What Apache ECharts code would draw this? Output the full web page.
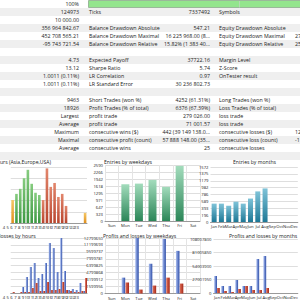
<!DOCTYPE html>
<html lang="en">
<head>
<meta charset="UTF-8">
<title>Strategy Tester Report</title>
<script src="https://cdn.jsdelivr.net/npm/echarts@6/dist/echarts.min.js"></script>
<style>
    html, body { margin: 0; padding: 0; background: #fff; }
    #main { width: 300px; height: 300px; }
</style>
</head>
<body>
<div id="main"></div>
<script>
    // report table, one entry per row
    var col1 = ['100%', '124973', '10 000.00', '356 964 842.67', '452 708 565.21', '-95 743 721.54', '',
        '4.73', '13.12', '1.0011 (0.11%)', '1.0011 (0.11%)', '',
        '9463', '18926', 'Largest', 'Average', 'Maximum', 'Maximal', 'Average', ''];
    var col2 = ['', 'Ticks', '', 'Balance Drawdown Absolute', 'Balance Drawdown Maximal', 'Balance Drawdown Relative', '',
        'Expected Payoff', 'Sharpe Ratio', 'LR Correlation', 'LR Standard Error', '',
        'Short Trades (won %)', 'Profit Trades (% of total)', 'profit trade', 'profit trade',
        'consecutive wins ($)', 'consecutive profit (count)', 'consecutive wins', ''];
    var col3 = ['', '7337492', '', '547.21', '16 225 968.00 (8...', '15.82% (1 383 40...', '',
        '37722.16', '5.74', '0.97', '30 236 802.73', '',
        '4252 (61.31%)', '6376 (67.39%)', '279 026.00', '71 001.57',
        '442 (39 149 138.0...', '57 888 148.00 (35...', '25', ''];
    var col4 = ['', 'Symbols', '', 'Equity Drawdown Absolute', 'Equity Drawdown Maximal', 'Equity Drawdown Relative', '',
        'Margin Level', 'Z-Score', 'OnTester result', '', '',
        'Long Trades (won %)', 'Loss Trades (% of total)', 'loss trade', 'loss trade',
        'consecutive losses ($)', 'consecutive loss (count)', 'consecutive losses', ''];
    var col5 = ['', '', '', '', '27', '25', '', '', '', '', '', '', '', '', '', '', '12', '-1', '', ''];

    // entries by hours
    var hourLabels = ['4', '5', '6', '7', '8', '9', '10', '11', '12', '13', '14', '15', '16', '17', '18', '19', '20', '21', '22', '23'];
    var hourSession = ['asia', 'europe', 'europe', 'europe', 'europe', 'europe', 'europe', 'europe',
        'usa', 'usa', 'usa', 'usa', 'usa', 'usa', 'usa', '', '', '', '', 'asia'];
    var entriesByHour = [410, 520, 610, 800, 950, 700, 540, 500, 410, 975, 645, 715, 465, 520, 305, 0, 0, 0, 0, 180];
    var hourTicks = ['0', '200', '400', '600', '800', '1000'];

    // entries by weekdays
    var weekdays = ['Sun', 'Mon', 'Tue', 'Wed', 'Thu', 'Fri', 'Sat'];
    var entriesByWeekday = [0, 1700, 1730, 1900, 1580, 2550, 0];
    var weekdayTicks = ['0', '323', '647', '971', '1295', '1618', '1942', '2266', '2590'];

    // entries by months
    var months = ['Jan', 'Feb', 'Mar', 'Apr', 'May', 'Jun', 'Jul', 'Aug', 'Sep', 'Oct', 'Nov', 'Dec'];
    var entriesByMonth = [525, 525, 465, 580, 525, 670, 875, 960];
    var monthTicks = ['0', '196', '393', '589', '786', '982', '1179', '1375', '1572'];

    // profits and losses by hours
    var profitsByHour = [0, 0, 0, 775000, 2065000, 3355000, 3870000, 1935000, 2450000, 3870000,
        6450000, 5805000, 2710000, 7100000, 2840000, 390000, 515000, 390000, 1290000, 260000];
    var lossesByHour = [130000, 0, 130000, 130000, 130000, 645000, 1290000, 260000, 260000, 1420000,
        390000, 390000, 515000, 1420000, 390000, 260000, 130000, 130000, 260000, 1935000];
    var hourMoneyTicks = ['0', '887500', '1775000', '2662500', '3550000', '4437500', '5325000', '6212500', '7100000'];

    // profits and losses by weekdays
    var profitsByWeekday = [0, 3660000, 12799650, 6860000, 12570000, 9830000, 0];
    var lossesByWeekday = [0, 2510000, 910000, 1830000, 3660000, 2290000, 0];
    var weekdayMoneyTicks = ['0', '1599956', '3199912', '4799868', '6399825', '7999781', '9599737', '11199693', '12799650'];

    // profits and losses by months
    var profitsByMonth = [34000000, 14000000, 14000000, 26000000, 14000000, 14000000, 68000000, 74000000];
    var lossesByMonth = [10000000, 4000000, 2000000, 8000000, 14000000, 6000000, 6000000, 10000000];
    var monthMoneyTicks = ['0', '27001950', '54003900', '81005850', '108007800'];

    var myChart = echarts.init(document.getElementById('main'), null, {renderer: 'svg'});

    var FONT = 'Open Sans';
    var rowH = 8;

    function vgrad(top, bottom) {
        return {type: 'linear', x: 0, y: 0, x2: 0, y2: 1, colorStops: [{offset: 0, color: top}, {offset: 1, color: bottom}]};
    }
    function hgrad(left, right) {
        return {type: 'linear', x: 0, y: 0, x2: 1, y2: 0, colorStops: [{offset: 0, color: left}, {offset: 1, color: right}]};
    }
    var sessionColors = {
        asia: vgrad('#f5c766', '#e0901e'),
        europe: vgrad('#86cc7f', '#3c9842'),
        usa: vgrad('#e2866c', '#b8442d'),
        '': '#fff'
    };
    var blueBar = hgrad('#a9bdf0', '#2e4ea8');
    var redBar = hgrad('#e0705a', '#a52818');

    // table rows
    var graphic = [];
    for (var i = 0; i < col1.length; i++) {
        if (i % 2 === 1) {
            graphic.push({type: 'rect', silent: true, z: -10,
                shape: {x: 0, y: i * rowH, width: 300, height: rowH},
                style: {fill: '#efefef'}});
        }
    }
    // progress bar of the first row
    graphic.push({type: 'rect', silent: true, shape: {x: 88.5, y: 0.5, width: 215, height: 7},
        style: {fill: '#93e58d', stroke: '#9ab89a', lineWidth: 1}});
    graphic.push({type: 'line', silent: true, shape: {x1: 239.5, y1: 1, x2: 239.5, y2: 7.5},
        style: {stroke: '#b6d8b4', lineWidth: 1}});

    function cell(txt, x, i, align) {
        if (!txt) return;
        graphic.push({type: 'text', silent: true, x: x, y: i * rowH + 4.3,
            style: {text: txt, fill: '#222', fontSize: 5.3, fontFamily: FONT, align: align, verticalAlign: 'middle'}});
    }
    for (var r = 0; r < col1.length; r++) {
        cell(col1[r], 79, r, 'right');
        cell(col2[r], 89, r, 'left');
        cell(col3[r], 210, r, 'right');
        cell(col4[r], 219, r, 'left');
        cell(col5[r], 295, r, 'left');
    }

    function title(txt, left, top) {
        return {text: txt, left: left, top: top, padding: 0,
            textStyle: {fontSize: 5.1, fontWeight: 'normal', color: '#222', fontFamily: FONT}};
    }

    function xCat(grid, data, shift, split) {
        return {type: 'category', gridIndex: grid, data: data,
            axisTick: {show: false},
            axisLine: {lineStyle: {color: '#9a9a9a', width: 1}},
            axisLabel: {interval: 0, fontSize: 4.2, margin: 2.5, color: '#222', fontFamily: FONT,
                padding: shift ? [0, shift, 0, 0] : 0},
            splitLine: {show: !!split, lineStyle: {color: '#e4e4e4', width: 1}}};
    }
    function yVal(grid, ticks, showLabels) {
        var max = Number(ticks[ticks.length - 1]);
        var step = max / (ticks.length - 1);
        return {type: 'value', gridIndex: grid, min: 0, max: max, interval: step,
            axisLine: {show: false}, axisTick: {show: false},
            axisLabel: {show: showLabels, fontSize: 4.2, margin: 2, color: '#222', fontFamily: FONT,
                formatter: function (v) { return ticks[Math.round(v / step)]; }},
            splitLine: {lineStyle: {color: '#dedede', width: 1}}};
    }

    var option = {
        animation: false,
        backgroundColor: '#fff',
        graphic: graphic,
        title: [
            title('Entries by hours (Asia,Europe,USA)', -31, 159),
            title('Entries by weekdays', 104, 159),
            title('Entries by months', 233, 159),
            title('Profits and losses by hours', -28, 233),
            title('Profits and losses by weekdays', 103, 233),
            title('Profits and losses by months', 229, 233)
        ],
        grid: [
            {left: 0, top: 167, width: 87, height: 56},
            {left: 105, top: 165, width: 95, height: 56},
            {left: 210.5, top: 167, width: 108, height: 55},
            {left: 0, top: 238, width: 87, height: 55},
            {left: 105, top: 238, width: 95, height: 56},
            {left: 213.5, top: 239, width: 108, height: 54}
        ],
        xAxis: [
            xCat(0, hourLabels, 17.4, false),
            xCat(1, weekdays, 0, true),
            xCat(2, months, 0, false),
            xCat(3, hourLabels, 17.4, false),
            xCat(4, weekdays, 0, true),
            xCat(5, months, 0, false)
        ],
        yAxis: [
            yVal(0, hourTicks, false),
            yVal(1, weekdayTicks, true),
            yVal(2, monthTicks, true),
            yVal(3, hourMoneyTicks, false),
            yVal(4, weekdayMoneyTicks, true),
            yVal(5, monthMoneyTicks, true)
        ],
        series: [
            {type: 'bar', xAxisIndex: 0, yAxisIndex: 0, data: entriesByHour, barWidth: 2.6,
                itemStyle: {color: function (p) { return sessionColors[hourSession[p.dataIndex]]; }}},
            {type: 'bar', xAxisIndex: 1, yAxisIndex: 1, data: entriesByWeekday, barWidth: 8,
                itemStyle: {color: vgrad('#a3dcbc', '#2b8658')}},
            {type: 'bar', xAxisIndex: 2, yAxisIndex: 2, data: entriesByMonth, barWidth: 5,
                itemStyle: {color: vgrad('#7fc3d8', '#1d7896')}},
            {type: 'bar', xAxisIndex: 3, yAxisIndex: 3, data: profitsByHour, barWidth: 2, barGap: '0%',
                itemStyle: {color: blueBar}},
            {type: 'bar', xAxisIndex: 3, yAxisIndex: 3, data: lossesByHour, barWidth: 2, barGap: '0%',
                itemStyle: {color: redBar}},
            {type: 'bar', xAxisIndex: 4, yAxisIndex: 4, data: profitsByWeekday, barWidth: 3.5, barGap: '10%',
                itemStyle: {color: blueBar}},
            {type: 'bar', xAxisIndex: 4, yAxisIndex: 4, data: lossesByWeekday, barWidth: 3.5, barGap: '10%',
                itemStyle: {color: redBar}},
            {type: 'bar', xAxisIndex: 5, yAxisIndex: 5, data: profitsByMonth, barWidth: 2.8, barGap: '0%',
                itemStyle: {color: blueBar}},
            {type: 'bar', xAxisIndex: 5, yAxisIndex: 5, data: lossesByMonth, barWidth: 2.8, barGap: '0%',
                itemStyle: {color: redBar}}
        ]
    };
    myChart.setOption(option);
</script>
</body>
</html>
